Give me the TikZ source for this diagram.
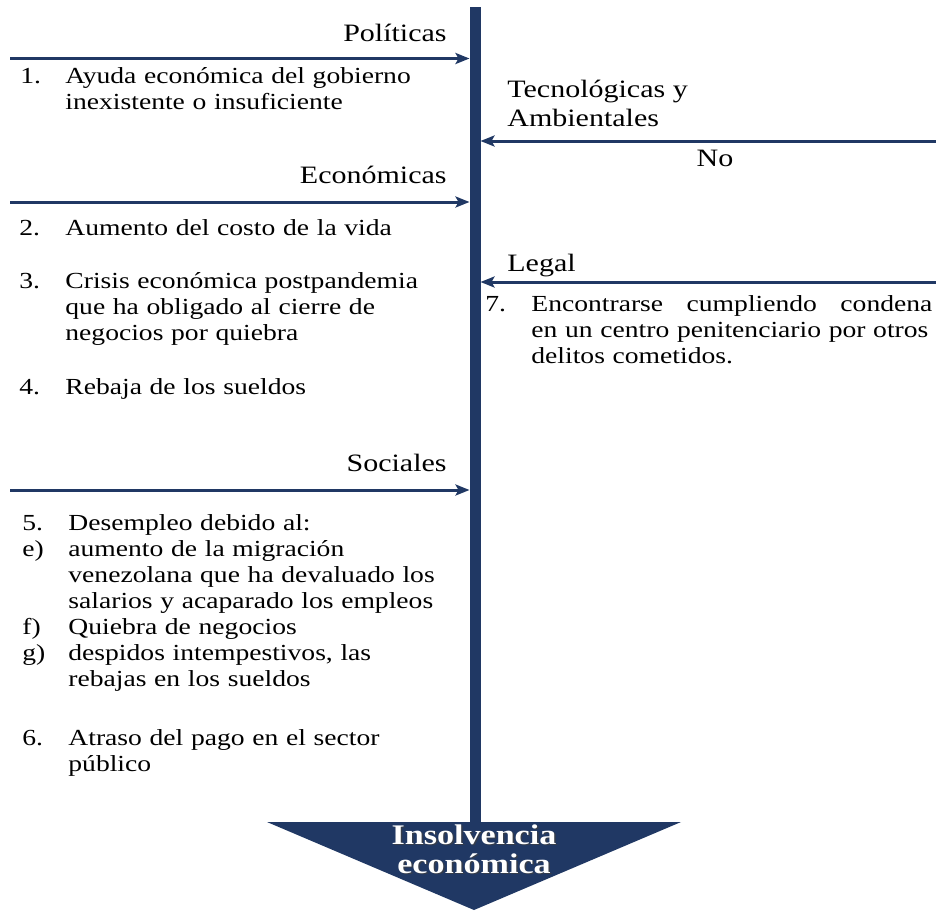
\documentclass[tikz,border=0pt]{standalone}
\usepackage{fontspec}
\setmainfont{Liberation Serif}[FakeStretch=1.2]
\usetikzlibrary{arrows.meta}

\definecolor{azul}{RGB}{32,56,100}

\tikzset{
  flecha/.style={azul, line width=1.5pt, -{Stealth[length=7pt,width=5.5pt,inset=1.5pt]}},
  titulo/.style={inner sep=0pt, align=left, font=\fontsize{12.5}{14.7}\selectfont},
  num/.style={anchor=base west, inner sep=0pt, font=\fontsize{11.5}{13}\selectfont},
  item/.style={anchor=base west, inner sep=0pt, align=left, text width=196pt, font=\fontsize{11.5}{13}\selectfont},
  efecto/.style={anchor=base, inner sep=0pt, align=center, font=\fontsize{14.2}{14.5}\selectfont\bfseries},
}

\begin{document}
\begin{tikzpicture}[x=0.5pt, y=-0.5pt]
\useasboundingbox (0,0) rectangle (936,911);

% eje central
\coordinate (arriba) at (475,7);
\coordinate (abajo) at (475,822);
\coordinate (ejeL) at (469.5,0);
\coordinate (ejeR) at (480.5,0);
\draw[azul, line width=5.5pt] (arriba) -- (abajo);
\fill[azul] (267,822) -- (681,822) -- (474,910) -- cycle;

% flechas
\coordinate (pol) at (10,58.5);
\coordinate (eco) at (10,202);
\coordinate (soc) at (10,490);
\coordinate (tec) at (936,141);
\coordinate (leg) at (936,282);
\draw[flecha] (pol) -- (pol -| ejeL);
\draw[flecha] (eco) -- (eco -| ejeL);
\draw[flecha] (soc) -- (soc -| ejeL);
\draw[flecha] (tec) -- (tec -| ejeR);
\draw[flecha] (leg) -- (leg -| ejeR);

% titulos
\node[titulo, anchor=base east] (tPol) at (447,41) {Políticas};
\node[titulo, anchor=base east] (tEco) at (447,183) {Económicas};
\node[titulo, anchor=base east] (tSoc) at (447,471.5) {Sociales};
\node[titulo, anchor=base west] (tTec) at (507,126.7) {Tecnológicas y\\Ambientales};
\node[titulo, anchor=base west] (tLeg) at (507,271.5) {Legal};
\node[titulo, anchor=base] (tNo) at (715,166) {No};

% causas politicas y economicas
\node[num] (n1) at (20,83) {1.};
\node[item] (c1) at (65,83) {Ayuda económica del gobierno\\inexistente o insuficiente};
\node[num] (n2) at (19,235) {2.};
\node[item] (c2) at (65,235) {Aumento del costo de la vida};
\node[num] (n3) at (19,288) {3.};
\node[item] (c3) at (65,288) {Crisis económica postpandemia\\que ha obligado al cierre de\\negocios por quiebra};
\node[num] (n4) at (19,394) {4.};
\node[item] (c4) at (65,394) {Rebaja de los sueldos};

% causas sociales
\node[num] (n5) at (22,530.5) {5.};
\node[item] (c5) at (68,530.5) {Desempleo debido al:};
\node[num] (ne) at (22,556.5) {e)};
\node[item] (ce) at (68,556.5) {aumento de la migración\\venezolana que ha devaluado los\\salarios y acaparado los empleos};
\node[num] (nf) at (22,634.5) {f)};
\node[item] (cf) at (68,634.5) {Quiebra de negocios};
\node[num] (ng) at (22,660.5) {g)};
\node[item] (cg) at (68,660.5) {despidos intempestivos, las\\rebajas en los sueldos};
\node[num] (n6) at (22,745.5) {6.};
\node[item] (c6) at (68,745.5) {Atraso del pago en el sector\\público};

% causa legal
\node[num] (n7) at (485,311) {7.};
\node[item, text width=200.5pt] (c7) at (531,311) {Encontrarse\hfill cumpliendo\hfill condena\\en un centro penitenciario por otros\\delitos cometidos.};

% efecto
\node[efecto, black!75, opacity=0.7] (sombra) at (475.5,874.5) {Insolvencia\\económica};
\node[efecto, white] (efecto) at (474,873) {Insolvencia\\económica};
\end{tikzpicture}
\end{document}
